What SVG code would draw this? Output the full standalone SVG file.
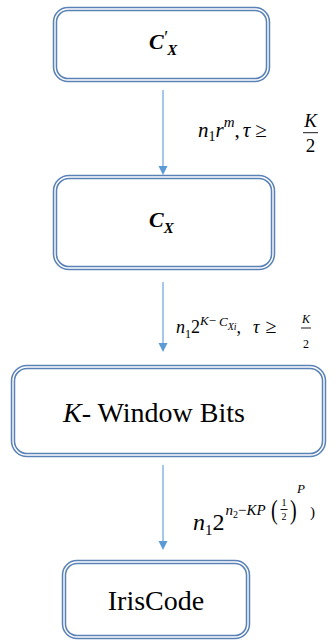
<svg xmlns="http://www.w3.org/2000/svg" width="336" height="641" viewBox="0 0 336 641">
<style>
.bo{fill:#fff;stroke:#5a82b6;stroke-width:4.5}
.bi{fill:none;stroke:#fff;stroke-width:1.4}
.ar{stroke:#5b9bd5;stroke-width:1.1;fill:none}
.ah{fill:#5b9bd5}
text{font-family:'Liberation Serif','Times New Roman','DejaVu Serif',serif;fill:#000}
.m{font-style:italic}
.n{font-style:normal}
.fl{stroke:#000;stroke-width:0.9}
</style>
<rect width="336" height="641" fill="#fff"/>
<g id="connectors">
<line class="ar" x1="163" y1="90" x2="163" y2="167"/>
<polygon class="ah" points="158.5,166 167.5,166 163,175"/>
<line class="ar" x1="163" y1="282" x2="163" y2="344"/>
<polygon class="ah" points="158.5,343 167.5,343 163,352"/>
<line class="ar" x1="163" y1="465" x2="163" y2="542"/>
<polygon class="ah" points="158.5,541 167.5,541 163,550"/>
</g>
<g id="label1">
<text class="m" font-size="21" x="198" y="137">n<tspan class="n" font-size="14" dy="4">1</tspan><tspan dy="-4">r</tspan><tspan font-size="15" dy="-10">m</tspan><tspan class="n" dy="10">,</tspan><tspan dx="3">τ</tspan><tspan class="n" dx="5">≥</tspan></text>
<text class="m" font-size="19" x="310.5" y="127" text-anchor="middle">K</text>
<line class="fl" x1="303" y1="132.7" x2="318" y2="132.7"/>
<text class="n" font-size="19" x="310.5" y="152" text-anchor="middle">2</text>
</g>
<g id="label2">
<text class="m" font-size="18" x="176" y="333">n<tspan class="n" font-size="12" dy="5">1</tspan><tspan class="n" dy="-5">2</tspan><tspan font-size="13" dy="-8">K</tspan><tspan class="n" font-size="13">−</tspan><tspan font-size="13" dx="3" dy="1">C</tspan><tspan font-size="10" dy="4">Xi</tspan><tspan class="n" dy="3">,</tspan><tspan dx="12">τ</tspan><tspan class="n" font-size="20" dx="6">≥</tspan></text>
<text class="m" font-size="12" x="306" y="323" text-anchor="middle">K</text>
<line class="fl" x1="301" y1="328" x2="311" y2="328" stroke-width="0.7"/>
<text class="n" font-size="12" x="306" y="348" text-anchor="middle">2</text>
</g>
<g id="label3">
<text class="m" font-size="24" x="193" y="530">n<tspan class="n" font-size="15" dy="5">1</tspan><tspan class="n" dy="-5">2</tspan><tspan font-size="15" dx="1" dy="-15">n</tspan><tspan class="n" font-size="10" dy="3">2</tspan><tspan class="n" font-size="15" dy="-3">−</tspan><tspan font-size="15">KP</tspan></text>
<text class="n" font-size="20" x="271" y="519" transform="translate(271 519) scale(1 1.4) translate(-271 -519)">(</text>
<text class="n" font-size="10" x="284" y="506" text-anchor="middle">1</text>
<line class="fl" x1="280.5" y1="509.5" x2="287.5" y2="509.5" stroke-width="0.6"/>
<text class="n" font-size="10" x="284" y="520" text-anchor="middle">2</text>
<text class="n" font-size="20" x="290" y="519" transform="translate(290 519) scale(1 1.4) translate(-290 -519)">)</text>
<text class="m" font-size="13" x="297" y="493">P</text>
<text class="n" font-size="15" x="310" y="517">)</text>
</g>
<g id="node-cx-prime">
<rect class="bo" x="55" y="9" width="213" height="71" rx="13"/>
<rect class="bi" x="55" y="9" width="213" height="71" rx="13"/>
<text class="m" font-weight="bold" font-size="22" x="149" y="49">C<tspan class="n" font-weight="normal" font-size="18" dx="0.5" dy="-5">′</tspan><tspan font-size="15" dx="-1" dy="11">X</tspan></text>
</g>
<g id="node-cx">
<rect class="bo" x="55" y="177" width="218" height="91" rx="14"/>
<rect class="bi" x="55" y="177" width="218" height="91" rx="14"/>
<text class="m" font-weight="bold" font-size="22" x="149" y="227">C<tspan font-size="15" dy="6">X</tspan></text>
</g>
<g id="node-window">
<rect class="bo" x="13" y="367" width="311" height="88" rx="14"/>
<rect class="bi" x="13" y="367" width="311" height="88" rx="14"/>
<text class="n" font-size="28" x="63" y="422"><tspan class="m">K</tspan>- Window Bits</text>
</g>
<g id="node-iriscode">
<rect class="bo" x="64" y="562" width="184" height="75" rx="13"/>
<rect class="bi" x="64" y="562" width="184" height="75" rx="13"/>
<text class="n" font-size="28" x="156" y="610" text-anchor="middle">IrisCode</text>
</g>
</svg>
